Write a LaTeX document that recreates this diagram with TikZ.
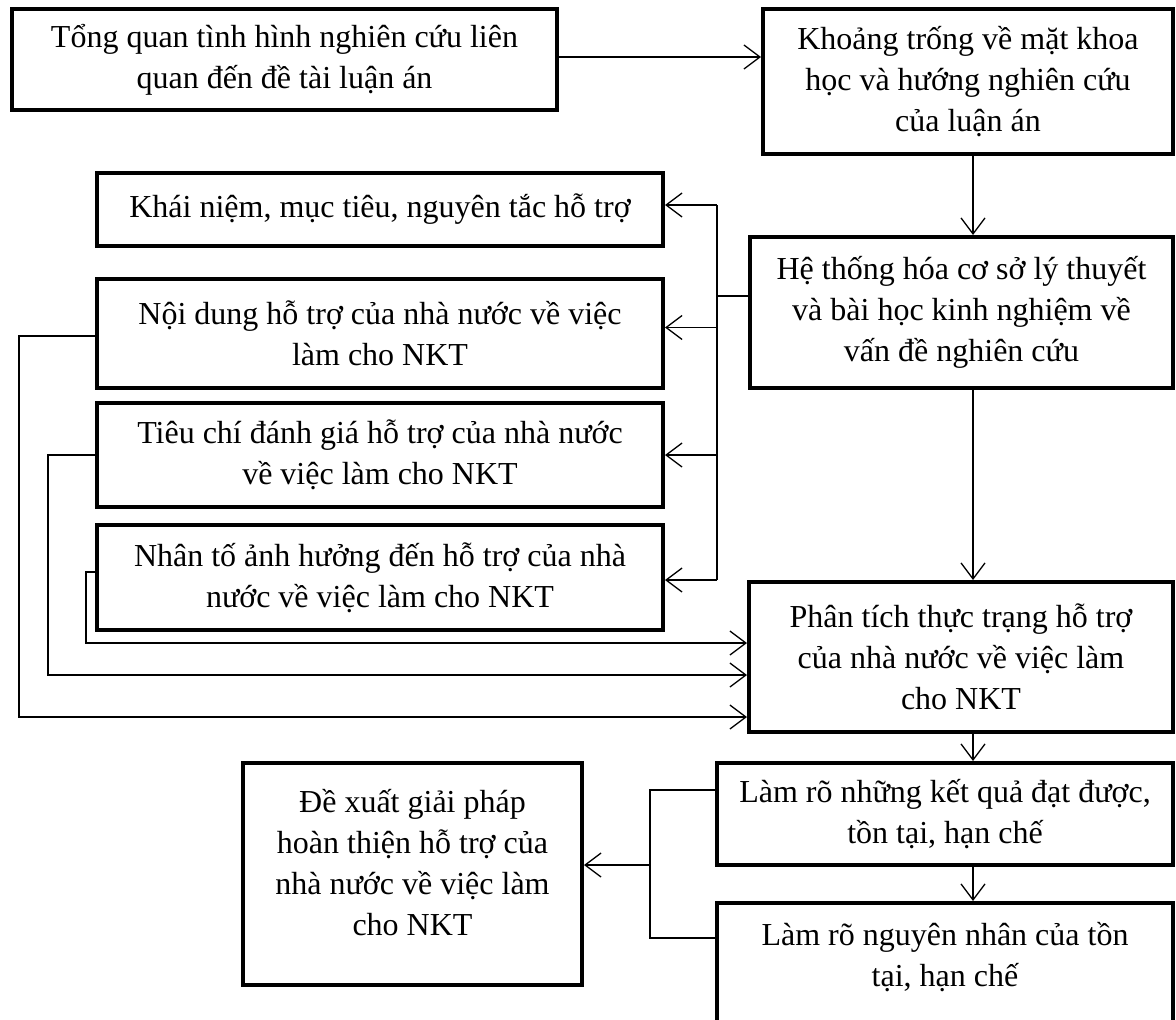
\documentclass[tikz,border=0pt]{standalone}
\usepackage{fontspec}
\setmainfont{Liberation Serif}
\usetikzlibrary{arrows.meta}
\begin{document}
\begin{tikzpicture}[x=1pt,y=-1pt,
  txt/.style={align=center, inner sep=0pt, font=\fontsize{32}{41}\selectfont},
  box/.style={txt, draw, rectangle, line width=4pt},
  conn/.style={line width=1.3pt},
  arr/.style={conn, -{Straight Barb[length=16pt,width=24pt]}}]
\useasboundingbox (0,0) rectangle (1176,1020);
% boxes
\node[box, minimum width=545pt, minimum height=101pt] (A) at (284.5,59.5)
  {Tổng quan tình hình nghiên cứu liên\\quan đến đề tài luận án};
\node[box, minimum width=410pt, minimum height=145pt] (B) at (968,81.5)
  {Khoảng trống về mặt khoa\\học và hướng nghiên cứu\\của luận án};
\node[box, minimum width=423pt, minimum height=151pt] (C) at (961.5,312.5)
  {Hệ thống hóa cơ sở lý thuyết\\và bài học kinh nghiệm về\\vấn đề nghiên cứu};
\node[box, minimum width=566pt, minimum height=73pt] (K) at (380,209.5)
  {Khái niệm, mục tiêu, nguyên tắc hỗ trợ};
\node[box, minimum width=566pt, minimum height=109pt] (N) at (380,333.5)
  {Nội dung hỗ trợ của nhà nước về việc\\làm cho NKT};
\node[box, minimum width=566pt, minimum height=104pt] (T) at (380,455)
  {Tiêu chí đánh giá hỗ trợ của nhà nước\\về việc làm cho NKT};
\node[box, minimum width=566pt, minimum height=105pt] (F) at (380,577.5)
  {Nhân tố ảnh hưởng đến hỗ trợ của nhà\\nước về việc làm cho NKT};
\node[box, minimum width=424pt, minimum height=150pt] (P) at (961,657)
  {Phân tích thực trạng hỗ trợ\\của nhà nước về việc làm\\cho NKT};
\node[box, minimum width=456pt, minimum height=102pt] (L1) at (945,814)
  {Làm rõ những kết quả đạt được,\\tồn tại, hạn chế};
\node[box, minimum width=456pt, minimum height=150pt] (L2) at (945,978) {};
\node[txt] (L2t) at (945,957) {Làm rõ nguyên nhân của tồn\\tại, hạn chế};
\node[box, minimum width=339pt, minimum height=222pt] (D) at (412.5,874) {};
\node[txt] (Dt) at (412.5,863)
  {Đề xuất giải pháp\\hoàn thiện hỗ trợ của\\nhà nước về việc làm\\cho NKT};
% helper coordinates
\coordinate (vx) at (973,0);
\coordinate (bx) at (717,0);
\coordinate (lx1) at (19,0);
\coordinate (lx2) at (48,0);
\coordinate (lx3) at (86,0);
\coordinate (dx) at (650,0);
\coordinate (c1) at ([yshift=16.5pt]C.west);
\coordinate (k1) at ([yshift=4.5pt]K.east);
\coordinate (n1) at ([yshift=6pt]N.east);
\coordinate (t1) at (T.east);
\coordinate (f1) at ([yshift=-2.5pt]F.east);
\coordinate (n2) at ([yshift=-2.5pt]N.west);
\coordinate (t2) at (T.west);
\coordinate (f2) at ([yshift=5.5pt]F.west);
\coordinate (p1) at ([yshift=14pt]P.west);
\coordinate (p2) at ([yshift=-18pt]P.west);
\coordinate (p3) at ([yshift=-60pt]P.west);
\coordinate (l1) at ([yshift=24pt]L1.west);
\coordinate (l2) at ([yshift=40pt]L2.west);
\coordinate (d1) at ([yshift=9pt]D.east);
% connectors
\draw[arr] ([yshift=2.5pt]A.east) -- ([yshift=2.5pt]A.east -| B.west);
\draw[arr] (B.south -| vx) -- (C.north -| vx);
\draw[arr] (C.south -| vx) -- (P.north -| vx);
\draw[arr] (P.south -| vx) -- (L1.north -| vx);
\draw[arr] (L1.south -| vx) -- (L2.north -| vx);
\draw[conn] (c1) -- (c1 -| bx);
\draw[conn] (bx |- k1) -- (bx |- f1);
\draw[arr] (bx |- k1) -- (k1);
\draw[arr] (bx |- n1) -- (n1);
\draw[arr] (bx |- t1) -- (t1);
\draw[arr] (bx |- f1) -- (f1);
\draw[arr] (n2) -- (n2 -| lx1) -- (lx1 |- p3) -- (p3);
\draw[arr] (t2) -- (t2 -| lx2) -- (lx2 |- p2) -- (p2);
\draw[arr] (f2) -- (f2 -| lx3) -- (lx3 |- p1) -- (p1);
\draw[conn] (l1) -- (l1 -| dx) -- (l2 -| dx) -- (l2);
\draw[arr] (dx |- d1) -- (d1);
\end{tikzpicture}
\end{document}
